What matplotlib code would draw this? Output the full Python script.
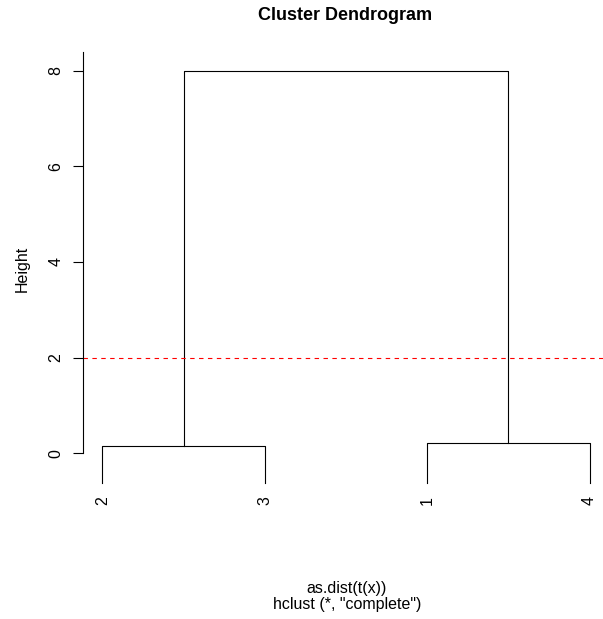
import matplotlib.pyplot as plt

plt.rcParams['font.family'] = ['Liberation Sans', 'DejaVu Sans']

# dendrogram data (leaf order as drawn)
leaf_labels = ['2', '3', '1', '4']
pair_heights = [0.16, 0.21]      # merge (2,3) and merge (1,4)
top_height = 8.0                 # final merge
hang_bottom = -0.63              # where the leaf lines end
cut_height = 2.0                 # abline(h = 2)
y_ticks = [0, 2, 4, 6, 8]

fig = plt.figure(figsize=(6.03, 6.19), dpi=100)
W, H = 603, 619
# plot region in pixels (R plot region runs a bit past the right edge)
x0, x1 = 83, 609
y_top, y_bot = 51.4, 486.8
ax = fig.add_axes([x0 / W, 1 - y_bot / H, (x1 - x0) / W, (y_bot - y_top) / H])

lw = 0.8
xs = list(range(1, len(leaf_labels) + 1))
centers = []
for i, h in enumerate(pair_heights):
    xa, xb = xs[2 * i], xs[2 * i + 1]
    ax.plot([xa, xa, xb, xb], [hang_bottom, h, h, hang_bottom], color='black', lw=lw)
    centers.append((xa + xb) / 2)
ax.plot([centers[0], centers[0], centers[1], centers[1]],
        [pair_heights[0], top_height, top_height, pair_heights[1]], color='black', lw=lw)

for x, lab in zip(xs, leaf_labels):
    ax.annotate(lab, (x, hang_bottom), xytext=(0, -9), textcoords='offset points',
                rotation=90, ha='center', va='top', fontsize=11.5)

ax.axhline(cut_height, color='red', lw=lw, linestyle=(0, (4, 4)))

ax.set_xlim(1 - 0.12, 4 + 0.12)
ax.set_ylim(-0.7, 8.4)
ax.set_xticks([])
ax.set_yticks(y_ticks)
ax.tick_params(axis='y', length=7.2, width=lw, pad=7, labelsize=11.5)
plt.setp(ax.get_yticklabels(), rotation=90, va='center')
for s in ['top', 'right', 'bottom']:
    ax.spines[s].set_visible(False)
ax.spines['left'].set_linewidth(lw)
ax.spines['left'].set_bounds(0, 8.38)
ax.set_ylabel('Height', fontsize=11.5, labelpad=13)

fig.text(345 / W, 1 - 15 / H, 'Cluster Dendrogram', ha='center', va='center',
         fontsize=13, fontweight='bold')
fig.text(347 / W, 1 - 588 / H, 'as.dist(t(x))', ha='center', va='center', fontsize=11.5)
fig.text(347 / W, 1 - 605 / H, 'hclust (*, "complete")', ha='center', va='center', fontsize=11.5)

fig.savefig('out.png', dpi=100)
